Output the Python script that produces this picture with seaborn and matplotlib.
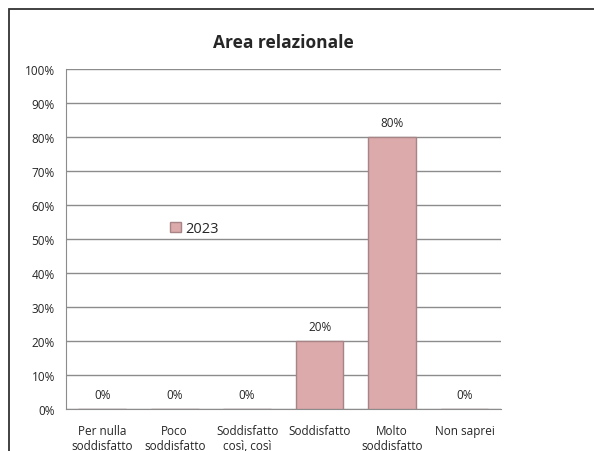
import numpy as np
import pandas as pd
import matplotlib
matplotlib.use("Agg")
import matplotlib.pyplot as plt
import seaborn as sns
from matplotlib.patches import Rectangle

# Data
categories = ["Per nulla\nsoddisfatto", "Poco\nsoddisfatto", "Soddisfatto\ncosì, così",
              "Soddisfatto", "Molto\nsoddisfatto", "Non saprei"]
values_2023 = [0, 0, 0, 20, 80, 0]
series_name = "2023"

df = pd.DataFrame({"categoria": categories, "valore": values_2023, "anno": series_name})

sns.set_style("white")
plt.rcParams["font.family"] = ["Open Sans", "DejaVu Sans"]

fig = plt.figure(figsize=(5.94, 4.52), dpi=100)
ax = fig.add_axes([0.111, 0.093, 0.732, 0.752])

# outer chart border (left/top visible)
fig.patches.append(Rectangle((9 / 594, -0.1), 1.2, 1 - 10 / 452 + 0.1, transform=fig.transFigure,
                             fill=False, edgecolor="#333333", linewidth=1.3))

sns.barplot(data=df, x="categoria", y="valore", hue="anno", palette=["#dcaaab"],
            saturation=1, width=0.66, edgecolor="#a88487", linewidth=1, ax=ax, zorder=3)

ax.set_ylim(0, 100)
ax.set_yticks(np.arange(0, 101, 10))
ax.set_yticklabels([f"{v}%" for v in range(0, 101, 10)], fontsize=8.5)
ax.tick_params(axis="x", labelsize=8.5, pad=11, length=0)
ax.tick_params(axis="y", length=0, pad=8)
ax.set_xlabel("")
ax.set_ylabel("")
ax.yaxis.grid(True, color="#8c8c8c", linewidth=1)
ax.set_axisbelow(True)
for s in ["top", "right"]:
    ax.spines[s].set_visible(False)
ax.spines["left"].set_color("#8c8c8c")
ax.spines["bottom"].set_color("#8c8c8c")

for c in ax.containers:
    ax.bar_label(c, labels=[f"{v:.0f}%" for v in c.datavalues], padding=6, fontsize=8.5)

ax.set_title("Area relazionale", fontsize=12.5, fontweight="bold", pad=16)

leg = ax.legend(loc="center left", bbox_to_anchor=(0.21, 0.53), frameon=False, fontsize=10.5,
                handlelength=0.7, handleheight=0.7, handletextpad=0.3)

fig.savefig("out.png", dpi=100)
